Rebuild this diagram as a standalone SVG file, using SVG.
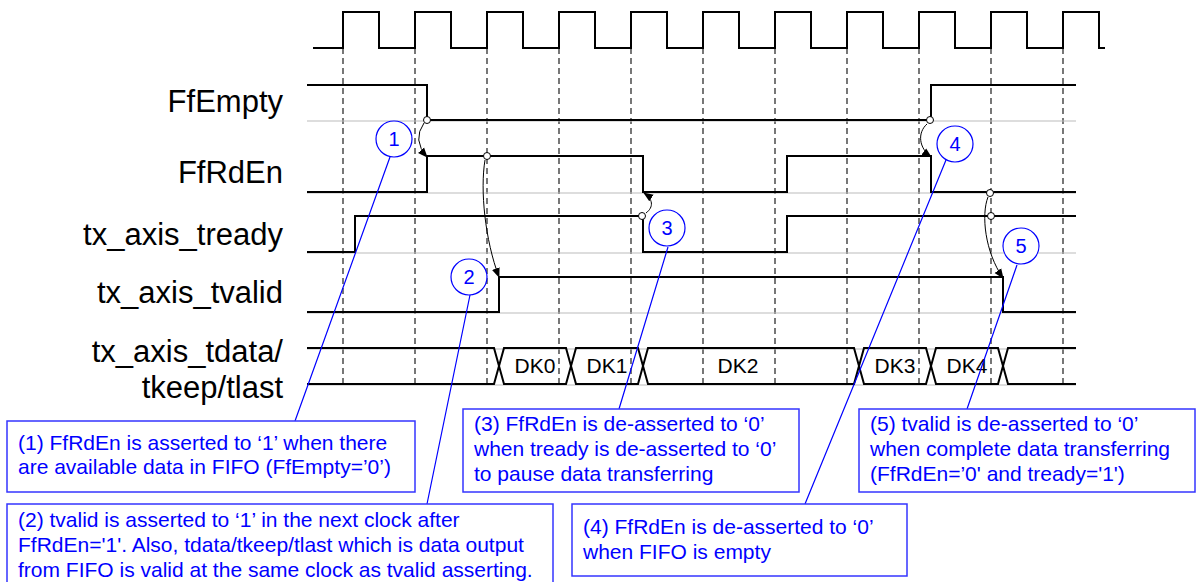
<svg xmlns="http://www.w3.org/2000/svg" width="1196" height="582" viewBox="0 0 1196 582">
<style>
.sig{fill:none;stroke:#000;stroke-width:2;stroke-linejoin:miter}
.ref{fill:none;stroke:#bbb;stroke-width:1}
.dash{fill:none;stroke:#555;stroke-width:1.6;stroke-dasharray:6 4}
.lbl{font-family:"Liberation Sans",Arial,sans-serif;font-size:31px;fill:#000;text-anchor:end}
.dk{font-family:"Liberation Sans",Arial,sans-serif;font-size:21px;fill:#000;text-anchor:middle}
.box{fill:#fff;stroke:#3535ff;stroke-width:1.5}
.bt{font-family:"Liberation Sans",Arial,sans-serif;font-size:21px;fill:#0000ff}
.num{fill:#fff;stroke:#0000ff;stroke-width:1.2}
.nt{font-family:"Liberation Sans",Arial,sans-serif;font-size:20px;fill:#0000ff;text-anchor:middle}
.lead{fill:none;stroke:#0000ff;stroke-width:1.2}
.arr{fill:none;stroke:#000;stroke-width:1}
.dot{fill:#fff;stroke:#000;stroke-width:1}
</style>
<defs>
<marker id="ah" viewBox="0 0 10 10" refX="9" refY="5" markerWidth="10" markerHeight="10" markerUnits="userSpaceOnUse" orient="auto">
<path d="M0,1 L10,5 L0,9 Z" fill="#000"/>
</marker>
</defs>

<g id="grid">
<path class="dash" d="M343,48V386M415,48V386M487,48V386M559,48V386M631,48V386M703,48V386M775,48V386M847,48V386M919,48V386M991,48V386M1063,48V386"/>
</g>

<g id="clock">
<path class="sig" d="M313,48H343V12H379V48H415V12H451V48H487V12H523V48H559V12H595V48H631V12H667V48H703V12H739V48H775V12H811V48H847V12H883V48H919V12H955V48H991V12H1027V48H1063V12H1099V48H1105"/>
</g>

<g id="refs">
<path class="ref" d="M307,121H1076M307,193H1076M307,253H1076M307,313H1076M307,349H1076M307,385H1076"/>
</g>

<g id="FfEmpty">
<text class="lbl" x="283" y="112">FfEmpty</text>
<path class="sig" d="M307,85H427V120H931V85H1076"/>
</g>
<g id="FfRdEn">
<text class="lbl" x="283" y="183">FfRdEn</text>
<path class="sig" d="M307,192H427V156H643V192H787V156H931V192H1076"/>
</g>
<g id="tx_axis_tready">
<text class="lbl" x="283" y="245">tx_axis_tready</text>
<path class="sig" d="M307,252H355V216H643V252H787V216H1076"/>
</g>
<g id="tx_axis_tvalid">
<text class="lbl" x="283" y="303">tx_axis_tvalid</text>
<path class="sig" d="M307,312H499V277H1003V312H1076"/>
</g>
<g id="tx_axis_tdata">
<text class="lbl" x="283" y="362">tx_axis_tdata/</text>
<text class="lbl" x="283" y="398">tkeep/tlast</text>
<path class="sig" d="M307,348H494L504,384H566L576,348H638L648,384H854L864,348H926L936,384H998L1008,348H1076"/>
<path class="sig" d="M307,384H494L504,348H566L576,384H638L648,348H854L864,384H926L936,348H998L1008,384H1076"/>
<text class="dk" x="535" y="373">DK0</text>
<text class="dk" x="607" y="373">DK1</text>
<text class="dk" x="738" y="373">DK2</text>
<text class="dk" x="895" y="373">DK3</text>
<text class="dk" x="967" y="373">DK4</text>
</g>

<g id="connectors">
<path class="arr" marker-end="url(#ah)" d="M424,123 Q412,140 427,157"/>
<path class="arr" marker-end="url(#ah)" d="M485,160 C480,190 485,240 499,277"/>
<path class="arr" marker-end="url(#ah)" d="M646,213 C654,207 653,199 644,193"/>
<path class="arr" marker-end="url(#ah)" d="M927,124 C917,133 919,148 931,157"/>
<path class="arr" marker-end="url(#ah)" d="M988,197 C981,215 985,252 1003,278"/>
<circle class="dot" cx="427" cy="120" r="3.5"/>
<circle class="dot" cx="487" cy="156" r="3.5"/>
<circle class="dot" cx="642" cy="216" r="3.5"/>
<circle class="dot" cx="930" cy="120" r="3.5"/>
<circle class="dot" cx="990" cy="193" r="3.5"/>
<circle class="dot" cx="991" cy="216" r="3.5"/>
<path class="lead" d="M390,157L295,421M470,295L427,504M668,247L619,409M946,160L805,504M1017,265L967,409"/>
</g>

<g id="n1">
<circle class="num" cx="394" cy="139" r="18"/>
<text class="nt" x="394" y="146">1</text>
</g>
<g id="n2">
<circle class="num" cx="469" cy="277" r="18"/>
<text class="nt" x="469" y="284">2</text>
</g>
<g id="n3">
<circle class="num" cx="667" cy="228" r="18"/>
<text class="nt" x="667" y="235">3</text>
</g>
<g id="n4">
<circle class="num" cx="955" cy="144" r="18"/>
<text class="nt" x="955" y="151">4</text>
</g>
<g id="n5">
<circle class="num" cx="1021" cy="246" r="18"/>
<text class="nt" x="1021" y="253">5</text>
</g>

<g id="box1">
<rect class="box" x="7" y="421" width="408" height="71"/>
<text class="bt" x="18" y="450">(1) FfRdEn is asserted to ‘1’ when there</text>
<text class="bt" x="18" y="474">are available data in FIFO (FfEmpty=’0’)</text>
</g>
<g id="box2">
<rect class="box" x="7" y="504" width="546" height="82"/>
<text class="bt" x="18" y="527">(2) tvalid is asserted to ‘1’ in the next clock after</text>
<text class="bt" x="18" y="552">FfRdEn='1'. Also, tdata/tkeep/tlast which is data output</text>
<text class="bt" x="18" y="577">from FIFO is valid at the same clock as tvalid asserting.</text>
</g>
<g id="box3">
<rect class="box" x="463" y="409" width="336" height="83"/>
<text class="bt" x="474" y="431">(3) FfRdEn is de-asserted to ‘0’</text>
<text class="bt" x="474" y="456">when tready is de-asserted to ‘0’</text>
<text class="bt" x="474" y="481">to pause data transferring</text>
</g>
<g id="box4">
<rect class="box" x="572" y="504" width="335" height="72"/>
<text class="bt" x="583" y="534">(4) FfRdEn is de-asserted to ‘0’</text>
<text class="bt" x="583" y="559">when FIFO is empty</text>
</g>
<g id="box5">
<rect class="box" x="859" y="409" width="336" height="83"/>
<text class="bt" x="870" y="431">(5) tvalid is de-asserted to ‘0’</text>
<text class="bt" x="870" y="456">when complete data transferring</text>
<text class="bt" x="870" y="481">(FfRdEn=’0' and tready='1')</text>
</g>
</svg>
